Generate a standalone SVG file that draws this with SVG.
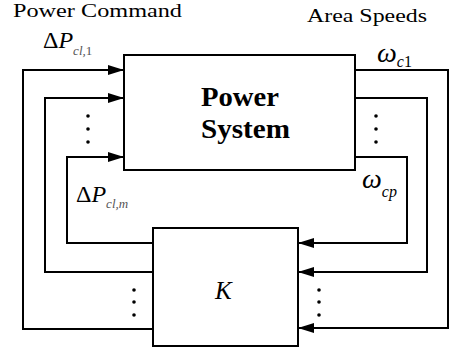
<svg xmlns="http://www.w3.org/2000/svg" width="450" height="351" viewBox="0 0 450 351">
<style>
.box{fill:#fff;stroke:#000;stroke-width:2}
.wire{fill:none;stroke:#000;stroke-width:2;marker-end:url(#ah)}
.dot{fill:#000}
text{font-family:"Liberation Serif","DejaVu Serif","Noto Serif",Tinos,"Nimbus Roman","FreeSerif",Times,serif}
</style>
<defs>
<marker id="ah" markerWidth="16" markerHeight="10" refX="16" refY="5" orient="auto" markerUnits="userSpaceOnUse">
<path d="M0,0 L16,5 L0,10 z" fill="#000"/>
</marker>
</defs>
<g id="connectors">
<polyline class="wire" points="153,329 23,329 23,70 124,70"/>
<polyline class="wire" points="153,272 45,272 45,98 124,98"/>
<polyline class="wire" points="153,243 67,243 67,157 124,157"/>
<polyline class="wire" points="355,70 448,70 448,328 298,328"/>
<polyline class="wire" points="355,98 427,98 427,272 298,272"/>
<polyline class="wire" points="355,157 407,157 407,243 298,243"/>
<circle class="dot" cx="88" cy="116" r="1.8"/>
<circle class="dot" cx="88" cy="129" r="1.8"/>
<circle class="dot" cx="88" cy="142" r="1.8"/>
<circle class="dot" cx="376" cy="116" r="1.8"/>
<circle class="dot" cx="376" cy="129" r="1.8"/>
<circle class="dot" cx="376" cy="142" r="1.8"/>
<circle class="dot" cx="134" cy="290" r="1.8"/>
<circle class="dot" cx="134" cy="302" r="1.8"/>
<circle class="dot" cx="134" cy="315" r="1.8"/>
<circle class="dot" cx="319" cy="290" r="1.8"/>
<circle class="dot" cx="319" cy="302" r="1.8"/>
<circle class="dot" cx="319" cy="315" r="1.8"/>
</g>
<g id="labels" fill="#000">
<text x="43" y="48" font-size="24">Δ<tspan font-style="italic">P</tspan><tspan font-style="italic" font-size="13" dy="7" fill="#555">cl,</tspan><tspan font-size="13" fill="#555">1</tspan></text>
<text x="76" y="202" font-size="24">Δ<tspan font-style="italic">P</tspan><tspan font-style="italic" font-size="13" dy="6" fill="#555">cl,m</tspan></text>
<text x="377" y="62" font-size="28" font-style="italic">ω<tspan font-size="16" dy="5">c</tspan><tspan font-size="16" font-style="normal">1</tspan></text>
<text x="362" y="188" font-size="28" font-style="italic">ω<tspan font-size="16" dy="9">cp</tspan></text>
</g>
<g id="power-system">
<rect class="box" x="124" y="55" width="231" height="115"/>
<text x="201" y="106" font-size="28" font-weight="bold" textLength="78" lengthAdjust="spacingAndGlyphs">Power</text>
<text x="201" y="138" font-size="28" font-weight="bold" textLength="89" lengthAdjust="spacingAndGlyphs">System</text>
</g>
<g id="controller-k">
<rect class="box" x="153" y="228" width="145" height="118"/>
<text x="215" y="299" font-size="25" font-style="italic">K</text>
</g>
<g id="titles">
<text x="13" y="17" font-size="18" textLength="169" lengthAdjust="spacingAndGlyphs">Power Command</text>
<text x="307" y="22" font-size="18" textLength="120" lengthAdjust="spacingAndGlyphs">Area Speeds</text>
</g>
</svg>
